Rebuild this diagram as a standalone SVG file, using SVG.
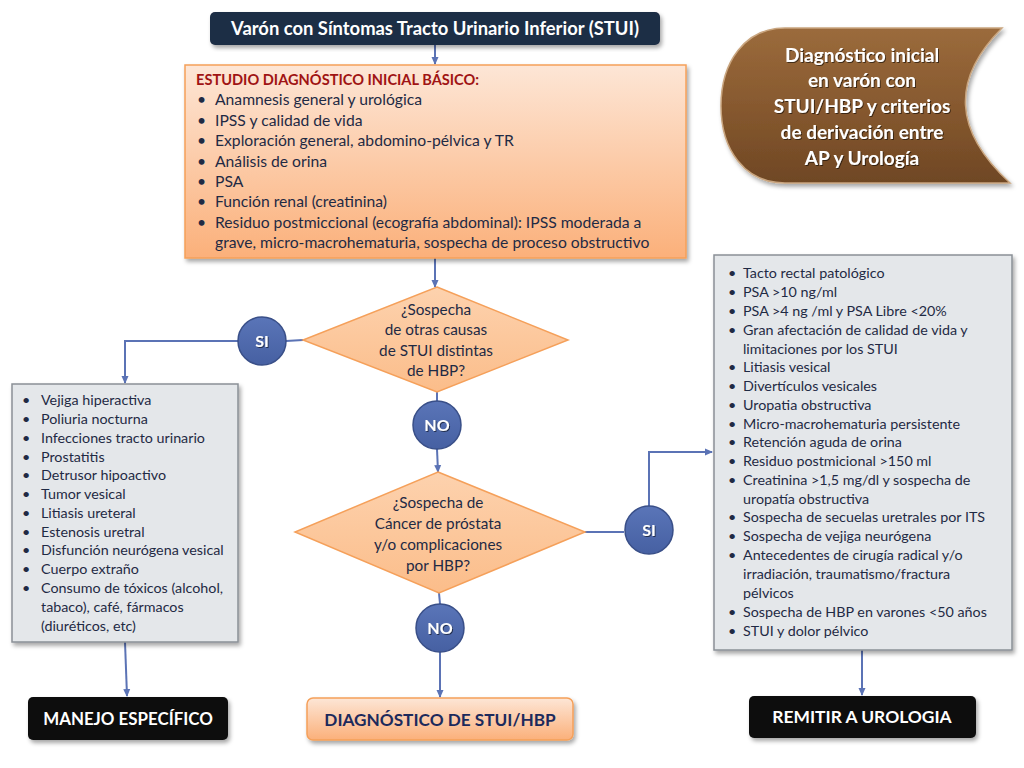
<svg xmlns="http://www.w3.org/2000/svg" width="1024" height="768" viewBox="0 0 1024 768">
<defs>
<linearGradient id="gOrange" x1="0" y1="0" x2="0" y2="1"><stop offset="0" stop-color="#fde6d6"/><stop offset="1" stop-color="#fbb07a"/></linearGradient>
<linearGradient id="gDiam" x1="0" y1="0" x2="0" y2="1"><stop offset="0" stop-color="#fdd2ae"/><stop offset="1" stop-color="#fbbd8a"/></linearGradient>
<linearGradient id="gBrown" x1="0" y1="0" x2="0" y2="1"><stop offset="0" stop-color="#9b6b3c"/><stop offset="0.5" stop-color="#87592f"/><stop offset="1" stop-color="#6f4724"/></linearGradient>
<linearGradient id="gCircle" x1="0" y1="0" x2="0" y2="1"><stop offset="0" stop-color="#5a75b8"/><stop offset="1" stop-color="#4660a2"/></linearGradient>
<filter id="sh" x="-10%" y="-10%" width="125%" height="130%"><feDropShadow dx="2" dy="3" stdDeviation="2" flood-color="#000" flood-opacity="0.35"/></filter>
<filter id="tsh" x="-10%" y="-20%" width="120%" height="150%"><feDropShadow dx="1" dy="1" stdDeviation="0.6" flood-color="#000" flood-opacity="0.55"/></filter>
<marker id="ah" markerWidth="8" markerHeight="8" refX="7" refY="4" orient="auto" markerUnits="userSpaceOnUse"><path d="M0,0.5 L8,4 L0,7.5 Z" fill="#5b73b5"/></marker>
<style>
.t{font-family:Lato,"Noto Sans","Liberation Sans",sans-serif;}
.body{font-size:15.7px;fill:#1f2a44;}
.list{font-size:14.3px;fill:#1f2a44;}
.dia{font-size:15.3px;fill:#1f2a44;text-anchor:middle;}
.wb{font-weight:bold;fill:#fff;text-anchor:middle;}
.circ{fill:url(#gCircle);stroke:#394f88;stroke-width:1.5;}
.conn{fill:none;stroke:#5b73b5;stroke-width:2;}
.gray{fill:#e4e7ea;stroke:#8a9096;stroke-width:1.5;}
</style>
</defs>

<g id="brand">
<path d="M785,28 L1002,28 Q925,105 1010,183 L785,183 C745,183 721,150 721,106 C721,62 745,28 785,28 Z" fill="url(#gBrown)" stroke="#c9a57f" stroke-width="1.5" filter="url(#sh)"/>
<g class="t wb" font-size="19" filter="url(#tsh)">
<text x="862" y="62">Diagnóstico inicial</text>
<text x="862" y="87">en varón con</text>
<text x="862" y="113">STUI/HBP y criterios</text>
<text x="862" y="139">de derivación entre</text>
<text x="862" y="165">AP y Urología</text>
</g>
</g>

<g id="connectors">
<path class="conn" d="M435,45 L435,64" marker-end="url(#ah)"/>
<path class="conn" d="M435,258 L435,287" marker-end="url(#ah)"/>
<path class="conn" d="M303,340 L286,341"/>
<path class="conn" d="M238,341 L125,341 L125,383" marker-end="url(#ah)"/>
<path class="conn" d="M437,392 L437,401"/>
<path class="conn" d="M437,449 L438,472" marker-end="url(#ah)"/>
<path class="conn" d="M585,532 L624,532"/>
<path class="conn" d="M649,506 L649,452 L712,452" marker-end="url(#ah)"/>
<path class="conn" d="M439,593 L440,604"/>
<path class="conn" d="M440,652 L440,697" marker-end="url(#ah)"/>
<path class="conn" d="M125,642 L127,696" marker-end="url(#ah)"/>
<path class="conn" d="M862,650 L862,695" marker-end="url(#ah)"/>
</g>

<g id="start">
<rect x="210" y="12" width="450" height="33" rx="5" fill="#1f2d45" filter="url(#sh)"/>
<text class="t wb" x="435" y="35" font-size="18.4">Varón con Síntomas Tracto Urinario Inferior (STUI)</text>
</g>

<g id="estudio">
<rect x="185" y="65" width="501" height="193" fill="url(#gOrange)" stroke="#f5a05a" stroke-width="1.5" filter="url(#sh)"/>
<text class="t" x="196" y="85" font-size="14.6" font-weight="bold" fill="#a01414">ESTUDIO DIAGNÓSTICO INICIAL BÁSICO:</text>
<g class="t body">
<text x="197" y="105">•</text><text x="215" y="105">Anamnesis general y urológica</text>
<text x="197" y="126">•</text><text x="215" y="126">IPSS y calidad de vida</text>
<text x="197" y="146">•</text><text x="215" y="146">Exploración general, abdomino-pélvica y TR</text>
<text x="197" y="167">•</text><text x="215" y="167">Análisis de orina</text>
<text x="197" y="187">•</text><text x="215" y="187">PSA</text>
<text x="197" y="207">•</text><text x="215" y="207">Función renal (creatinina)</text>
<text x="197" y="228">•</text><text x="215" y="228">Residuo postmiccional (ecografía abdominal): IPSS moderada a</text>
<text x="215" y="248">grave, micro-macrohematuria, sospecha de proceso obstructivo</text>
</g>
</g>

<g id="decision1">
<polygon points="437,287 568,340 437,392 303,340" fill="url(#gDiam)" stroke="#f5a05a" stroke-width="1.5"/>
<g class="t dia">
<text x="436" y="315">¿Sospecha</text>
<text x="436" y="335">de otras causas</text>
<text x="436" y="356">de STUI distintas</text>
<text x="436" y="376">de HBP?</text>
</g>
</g>

<g id="si1">
<circle class="circ" cx="262" cy="341" r="24"/>
<text class="t wb" x="262" y="347" font-size="16" filter="url(#tsh)">SI</text>
</g>

<g id="no1">
<circle class="circ" cx="437" cy="425" r="24"/>
<text class="t wb" x="437" y="431" font-size="16" filter="url(#tsh)">NO</text>
</g>

<g id="otras">
<rect class="gray" x="12" y="384" width="226" height="258" filter="url(#sh)"/>
<g class="t list">
<text x="22" y="405">•</text><text x="41" y="405">Vejiga hiperactiva</text>
<text x="22" y="424">•</text><text x="41" y="424">Poliuria nocturna</text>
<text x="22" y="443">•</text><text x="41" y="443">Infecciones tracto urinario</text>
<text x="22" y="462">•</text><text x="41" y="462">Prostatitis</text>
<text x="22" y="480">•</text><text x="41" y="480">Detrusor hipoactivo</text>
<text x="22" y="499">•</text><text x="41" y="499">Tumor vesical</text>
<text x="22" y="518">•</text><text x="41" y="518">Litiasis ureteral</text>
<text x="22" y="537">•</text><text x="41" y="537">Estenosis uretral</text>
<text x="22" y="555">•</text><text x="41" y="555">Disfunción neurógena vesical</text>
<text x="22" y="574">•</text><text x="41" y="574">Cuerpo extraño</text>
<text x="22" y="593">•</text><text x="41" y="593">Consumo de tóxicos (alcohol,</text>
<text x="41" y="612">tabaco), café, fármacos</text>
<text x="41" y="631">(diuréticos, etc)</text>
</g>
</g>

<g id="decision2">
<polygon points="438,472 585,532 439,593 295,532" fill="url(#gDiam)" stroke="#f5a05a" stroke-width="1.5"/>
<g class="t dia">
<text x="438" y="508">¿Sospecha de</text>
<text x="438" y="529">Cáncer de próstata</text>
<text x="438" y="550">y/o complicaciones</text>
<text x="438" y="571">por HBP?</text>
</g>
</g>

<g id="si2">
<circle class="circ" cx="649" cy="530" r="24"/>
<text class="t wb" x="649" y="536" font-size="16" filter="url(#tsh)">SI</text>
</g>

<g id="no2">
<circle class="circ" cx="440" cy="628" r="24"/>
<text class="t wb" x="440" y="634" font-size="16" filter="url(#tsh)">NO</text>
</g>

<g id="criterios">
<rect class="gray" x="714" y="255" width="298" height="395" filter="url(#sh)"/>
<g class="t list">
<text x="728" y="278">•</text><text x="743" y="278">Tacto rectal patológico</text>
<text x="728" y="297">•</text><text x="743" y="297">PSA &gt;10 ng/ml</text>
<text x="728" y="316">•</text><text x="743" y="316">PSA &gt;4 ng /ml y PSA Libre &lt;20%</text>
<text x="728" y="335">•</text><text x="743" y="335">Gran afectación de calidad de vida y</text>
<text x="743" y="354">limitaciones por los STUI</text>
<text x="728" y="372">•</text><text x="743" y="372">Litiasis vesical</text>
<text x="728" y="391">•</text><text x="743" y="391">Divertículos vesicales</text>
<text x="728" y="410">•</text><text x="743" y="410">Uropatia obstructiva</text>
<text x="728" y="429">•</text><text x="743" y="429">Micro-macrohematuria persistente</text>
<text x="728" y="447">•</text><text x="743" y="447">Retención aguda de orina</text>
<text x="728" y="466">•</text><text x="743" y="466">Residuo postmicional &gt;150 ml</text>
<text x="728" y="485">•</text><text x="743" y="485">Creatinina &gt;1,5 mg/dl y sospecha de</text>
<text x="743" y="504">uropatía obstructiva</text>
<text x="728" y="522">•</text><text x="743" y="522">Sospecha de secuelas uretrales por ITS</text>
<text x="728" y="541">•</text><text x="743" y="541">Sospecha de vejiga neurógena</text>
<text x="728" y="560">•</text><text x="743" y="560">Antecedentes de cirugía radical y/o</text>
<text x="743" y="579">irradiación, traumatismo/fractura</text>
<text x="743" y="598">pélvicos</text>
<text x="728" y="617">•</text><text x="743" y="617">Sospecha de HBP en varones &lt;50 años</text>
<text x="728" y="636">•</text><text x="743" y="636">STUI y dolor pélvico</text>
</g>
</g>

<g id="manejo">
<rect x="28" y="697" width="200" height="43" rx="5" fill="#0b0b0b" filter="url(#sh)"/>
<text class="t wb" x="128" y="725" font-size="16.9">MANEJO ESPECÍFICO</text>
</g>

<g id="diagnostico">
<rect x="307" y="698" width="266" height="42" rx="6" fill="url(#gOrange)" stroke="#f5a05a" stroke-width="1.5" filter="url(#sh)"/>
<text class="t" x="440" y="726" font-size="17.2" font-weight="bold" fill="#1c2a5c" text-anchor="middle">DIAGNÓSTICO DE STUI/HBP</text>
</g>

<g id="remitir">
<rect x="749" y="696" width="227" height="42" rx="5" fill="#0b0b0b" filter="url(#sh)"/>
<text class="t wb" x="862" y="723" font-size="17.4">REMITIR A UROLOGIA</text>
</g>
</svg>
